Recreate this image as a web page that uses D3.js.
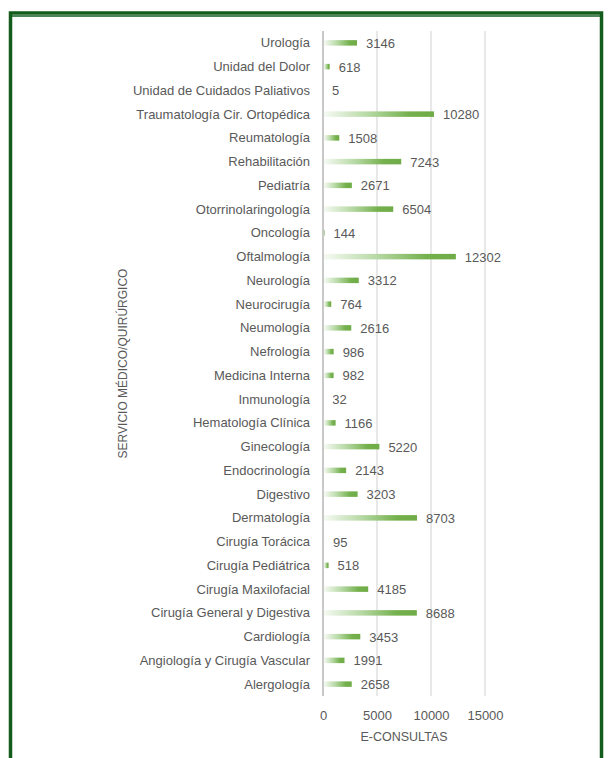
<!DOCTYPE html>
<html>
<head>
<meta charset="utf-8">
<script src="https://cdn.jsdelivr.net/npm/d3@7"></script>
<style>
  html, body { margin: 0; padding: 0; background: #fff; }
  svg { display: block; }
  text { font-family: "Liberation Sans", Arial, sans-serif; fill: #595959; }
</style>
</head>
<body>
<svg id="chart" width="609" height="758"></svg>
<script>
// Services, listed top to bottom
const categories = [
  "Urología", "Unidad del Dolor", "Unidad de Cuidados Paliativos",
  "Traumatología Cir. Ortopédica", "Reumatología", "Rehabilitación",
  "Pediatría", "Otorrinolaringología", "Oncología", "Oftalmología",
  "Neurología", "Neurocirugía", "Neumología", "Nefrología",
  "Medicina Interna", "Inmunología", "Hematología Clínica", "Ginecología",
  "Endocrinología", "Digestivo", "Dermatología", "Cirugía Torácica",
  "Cirugía Pediátrica", "Cirugía Maxilofacial", "Cirugía General y Digestiva",
  "Cardiología", "Angiología y Cirugía Vascular", "Alergología"
];
const values = [
  3146, 618, 5, 10280, 1508, 7243, 2671, 6504, 144, 12302,
  3312, 764, 2616, 986, 982, 32, 1166, 5220, 2143, 3203,
  8703, 95, 518, 4185, 8688, 3453, 1991, 2658
];
const xTicks = [0, 5000, 10000, 15000];
const xTitle = "E-CONSULTAS";
const yTitle = "SERVICIO MÉDICO/QUIRÚRGICO";

const svg = d3.select("#chart");
const frame = "#135c1c";

// outer frame
svg.append("rect").attr("x", 10.5).attr("y", 13).attr("width", 591).attr("height", 760)
  .attr("fill", "none").attr("stroke", frame).attr("stroke-width", 3.5);
svg.append("line").attr("x1", 12).attr("x2", 600).attr("y1", 16).attr("y2", 16)
  .attr("stroke", frame).attr("stroke-width", 1.3);

const plot = { left: 323, right: 485, top: 31, bottom: 696 };

const x = d3.scaleLinear().domain([0, 15000]).range([plot.left, plot.right]);
const y = d3.scaleBand().domain(categories).range([plot.top, plot.bottom]).paddingInner(0);

// bar gradient
const defs = svg.append("defs");
const grad = defs.append("linearGradient").attr("id", "barGrad")
  .attr("x1", "0%").attr("x2", "100%").attr("y1", "0%").attr("y2", "0%");
grad.append("stop").attr("offset", "0%").attr("stop-color", "#f6faf3");
grad.append("stop").attr("offset", "40%").attr("stop-color", "#b7d9a5");
grad.append("stop").attr("offset", "78%").attr("stop-color", "#74b04c");
grad.append("stop").attr("offset", "100%").attr("stop-color", "#6fab46");

// gridlines
svg.append("g").selectAll("line").data(xTicks).join("line")
  .attr("x1", d => x(d)).attr("x2", d => x(d))
  .attr("y1", plot.top).attr("y2", plot.bottom)
  .attr("stroke", d => d === 0 ? "#c8c8c8" : "#d9d9d9")
  .attr("stroke-width", d => d === 0 ? 2 : 1.2);

// bars
const barH = 5.5;
svg.append("g").selectAll("rect").data(values).join("rect")
  .attr("x", x(0) + 1)
  .attr("y", (d, i) => y(categories[i]) + y.bandwidth() / 2 - barH / 2)
  .attr("width", d => Math.max(0, x(d) - x(0) - 1))
  .attr("height", barH)
  .attr("fill", "url(#barGrad)");

// value labels
svg.append("g").selectAll("text").data(values).join("text")
  .attr("x", d => x(d) + 9)
  .attr("y", (d, i) => y(categories[i]) + y.bandwidth() / 2 + 0.5)
  .attr("dy", "0.35em")
  .attr("font-size", 13)
  .text(d => d);

// category axis labels
svg.append("g").selectAll("text").data(categories).join("text")
  .attr("x", 310)
  .attr("y", d => y(d) + y.bandwidth() / 2)
  .attr("dy", "0.35em")
  .attr("text-anchor", "end")
  .attr("font-size", 13)
  .text(d => d);

// value axis tick labels
const xAxis = d3.axisBottom(x).tickValues(xTicks).tickSize(0).tickPadding(0).tickFormat(d3.format("d"));
const gx = svg.append("g").attr("transform", `translate(0,${plot.bottom + 19})`).call(xAxis);
gx.select(".domain").remove();
gx.selectAll("text").attr("font-size", 13).attr("dy", "0.35em")
  .style("font-family", "'Liberation Sans', Arial, sans-serif").attr("fill", "#595959");

// axis titles
svg.append("text").attr("x", (plot.left + plot.right) / 2).attr("y", 737)
  .attr("dy", "0.35em").attr("text-anchor", "middle").attr("font-size", 12.5).text(xTitle);
svg.append("text")
  .attr("transform", `translate(123,${(plot.top + plot.bottom) / 2}) rotate(-90)`)
  .attr("dy", "0.35em").attr("text-anchor", "middle").attr("font-size", 12).text(yTitle);
</script>
</body>
</html>
